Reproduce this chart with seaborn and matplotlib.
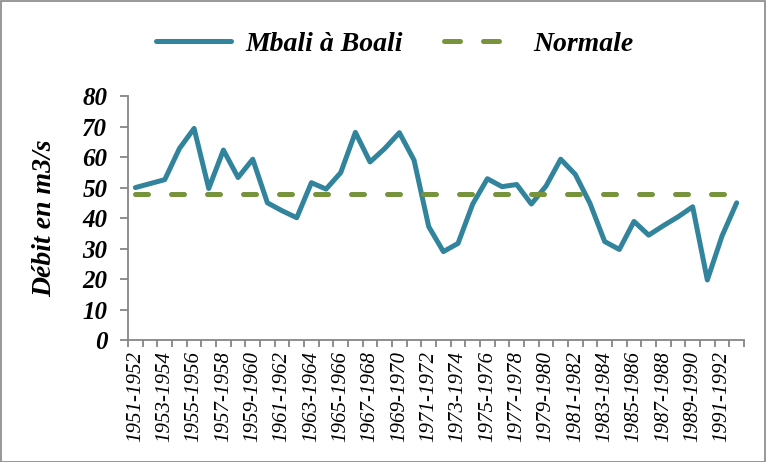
import numpy as np
import pandas as pd
import matplotlib.pyplot as plt
import matplotlib.patches as mpatches
from matplotlib.lines import Line2D
from matplotlib.ticker import FixedLocator
import seaborn as sns

# hydrological years 1951-1952 .. 1992-1993
years = [f"{y}-{y + 1}" for y in range(1951, 1993)]
debit = [
    50.0, 51.3, 52.6, 62.8, 69.4, 49.7, 62.3, 53.3, 59.3, 45.0,
    42.4, 40.1, 51.6, 49.5, 54.9, 68.1, 58.4, 62.8, 68.0, 59.0,
    37.2, 29.0, 31.7, 44.6, 52.9, 50.3, 51.0, 44.6, 50.5, 59.3,
    54.3, 44.8, 32.3, 29.7, 38.9, 34.4, 37.5, 40.4, 43.7, 19.7,
    34.1, 45.0,
]
normale = [47.9] * len(years)
y_ticks = [0, 10, 20, 30, 40, 50, 60, 70, 80]

BLUE = "#31849B"
GREEN = "#77933C"
AXIS = "#868686"

df = pd.DataFrame({"pos": np.arange(len(years)), "debit": debit, "normale": normale})

sns.set_style("white")
plt.rcParams["font.family"] = ["Liberation Serif", "DejaVu Serif"]
plt.rcParams["text.color"] = "black"

fig = plt.figure(figsize=(7.67, 4.62), dpi=100)
ax = fig.add_axes([0.167, 0.264, 0.803, 0.528])

sns.lineplot(data=df, x="pos", y="debit", ax=ax, color=BLUE, lw=3.6,
             solid_capstyle="round", label="Mbali à Boali")
sns.lineplot(data=df, x="pos", y="normale", ax=ax, color=GREEN, lw=3.6,
             label="Normale")
dash_line = ax.lines[1]
dash_line.set_dashes((2.6, 4.6))
dash_line.set_dash_capstyle("round")
ax.get_legend().remove()

ax.set_xlim(-0.5, len(years) - 0.5)
ax.set_ylim(0, 80)
ax.set_yticks(y_ticks)
ax.set_yticklabels([str(t) for t in y_ticks], fontsize=18, fontweight="bold",
                   fontstyle="italic", color="black")

ax.set_xticks(np.arange(0, len(years), 2))
ax.set_xticklabels(years[::2], rotation=90, fontsize=15, fontstyle="italic",
                   color="black")
ax.xaxis.set_minor_locator(FixedLocator(np.arange(-0.5, len(years), 1)))
ax.tick_params(axis="x", which="major", length=0, pad=8)
ax.tick_params(axis="x", which="minor", length=5, color=AXIS, width=1.3,
               direction="out", bottom=True)
ax.tick_params(axis="y", length=6, color=AXIS, width=1.3, direction="out",
               left=True, pad=9)

ax.set_xlabel("")
ax.set_ylabel("Débit en m3/s", fontsize=20, fontweight="bold",
              fontstyle="italic", labelpad=18, color="black")

for side in ["top", "right"]:
    ax.spines[side].set_visible(False)
for side in ["left", "bottom"]:
    ax.spines[side].set_color(AXIS)
    ax.spines[side].set_linewidth(1.3)

# legend handles: the dashed sample shows two dashes like the original
handles = [
    Line2D([], [], color=BLUE, lw=3.6, solid_capstyle="round"),
    Line2D([], [], color=GREEN, lw=3.6, dashes=(3.2, 4.6),
           dash_capstyle="round"),
]
labels = ["Mbali à Boali", "Normale"]
fig.legend(handles, labels, loc="center", bbox_to_anchor=(0.515, 0.905),
           ncol=2, frameon=False, handlelength=2.7, handletextpad=0.5,
           columnspacing=1.5,
           prop={"size": 20, "weight": "bold", "style": "italic"})

fig.patches.append(mpatches.Rectangle((0.001, 0.001), 0.997, 0.997,
                                      transform=fig.transFigure, fill=False,
                                      ec=AXIS, lw=1.2))

fig.savefig("out.png", dpi=100)
